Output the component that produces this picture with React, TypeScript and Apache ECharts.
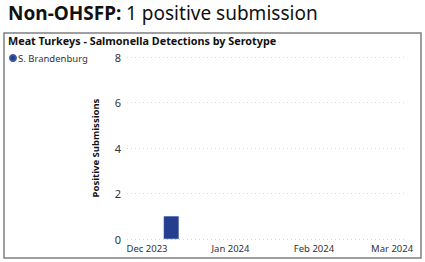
import React, { useEffect, useRef } from "react";
import * as echarts from "echarts";

const seriesName = "S. Brandenburg";
const weekDates = ["2023-12-10"];
const positives = [1];
const monthTicks = ["2023-12-01", "2024-01-01", "2024-02-01", "2024-03-01"];
const monthNames = ["Jan", "Feb", "Mar", "Apr", "May", "Jun", "Jul", "Aug", "Sep", "Oct", "Nov", "Dec"];
const xMin = "2023-11-23T14:00:00";
const xMax = "2024-03-05T10:00:00";
const yMax = 8;
const yInterval = 2;

const FONT = "'Noto Sans', 'Open Sans', sans-serif";

export default function App() {
  const ref = useRef<HTMLDivElement>(null);
  useEffect(() => {
    document.body.style.margin = "0";
    const chart = echarts.init(ref.current!, null, { renderer: "svg" });
    const ts = (s: string) => new Date(s).getTime();
    chart.setOption({
      animation: false,
      backgroundColor: "#ffffff",
      textStyle: { fontFamily: FONT },
      title: [
        {
          text: "{b|Non-OHSFP:} {n|1 positive submission}",
          left: 8,
          top: 3,
          padding: 0,
          textStyle: {
            rich: {
              b: { fontSize: 19, fontWeight: "bold", color: "#111", fontFamily: FONT },
              n: { fontSize: 19, fontWeight: "normal", color: "#111", fontFamily: FONT },
            },
          },
        },
        {
          text: "Meat Turkeys - Salmonella Detections by Serotype",
          left: 8,
          top: 35,
          padding: 0,
          textStyle: { fontSize: 10.8, fontWeight: "bold", color: "#111", fontFamily: FONT },
        },
      ],
      graphic: [
        {
          type: "rect",
          shape: { x: 4, y: 33, width: 417, height: 225 },
          style: { fill: "none", stroke: "#808080", lineWidth: 1.5 },
          silent: true,
        },
      ],
      legend: {
        left: 9,
        top: 53,
        padding: 0,
        icon: "circle",
        itemWidth: 6,
        itemHeight: 6,
        itemGap: 4,
        textStyle: { fontSize: 9.5, color: "#333", fontFamily: FONT, padding: [0, 0, 0, -3] },
        data: [seriesName],
      },
      grid: { left: 127, right: 21, top: 57, bottom: 23, containLabel: false },
      xAxis: {
        type: "value",
        min: ts(xMin),
        max: ts(xMax),
        axisLine: { show: false },
        axisTick: { show: false },
        splitLine: { show: false },
        axisLabel: {
          customValues: monthTicks.map(ts),
          fontSize: 9.5,
          color: "#333",
          margin: 4,
          fontFamily: FONT,
          hideOverlap: false,
          showMinLabel: true,
          showMaxLabel: true,
          formatter: (v: number) => {
            const d = new Date(v);
            return monthNames[d.getMonth()] + " " + d.getFullYear();
          },
        },
      },
      yAxis: {
        type: "value",
        min: 0,
        max: yMax,
        interval: yInterval,
        name: "Positive Submissions",
        nameLocation: "middle",
        nameGap: 27,
        nameTextStyle: { fontSize: 9.5, fontWeight: "bold", color: "#111", fontFamily: FONT },
        axisLine: { show: false },
        axisTick: { show: false },
        axisLabel: { fontSize: 11, color: "#333", margin: 6, fontFamily: FONT },
        splitLine: { show: true, lineStyle: { color: "#d6d6d6", type: [1, 3], width: 1 } },
      },
      series: [
        {
          name: seriesName,
          type: "bar",
          barWidth: 15,
          itemStyle: { color: "#253F8E", borderColor: "#3a55a3", borderWidth: 0.6 },
          data: weekDates.map((d, i) => [ts(d), positives[i]]),
        },
      ],
    });
    return () => chart.dispose();
  }, []);
  return <div ref={ref} style={{ position: "absolute", left: 0, top: 0, width: 425, height: 262 }} />;
}
